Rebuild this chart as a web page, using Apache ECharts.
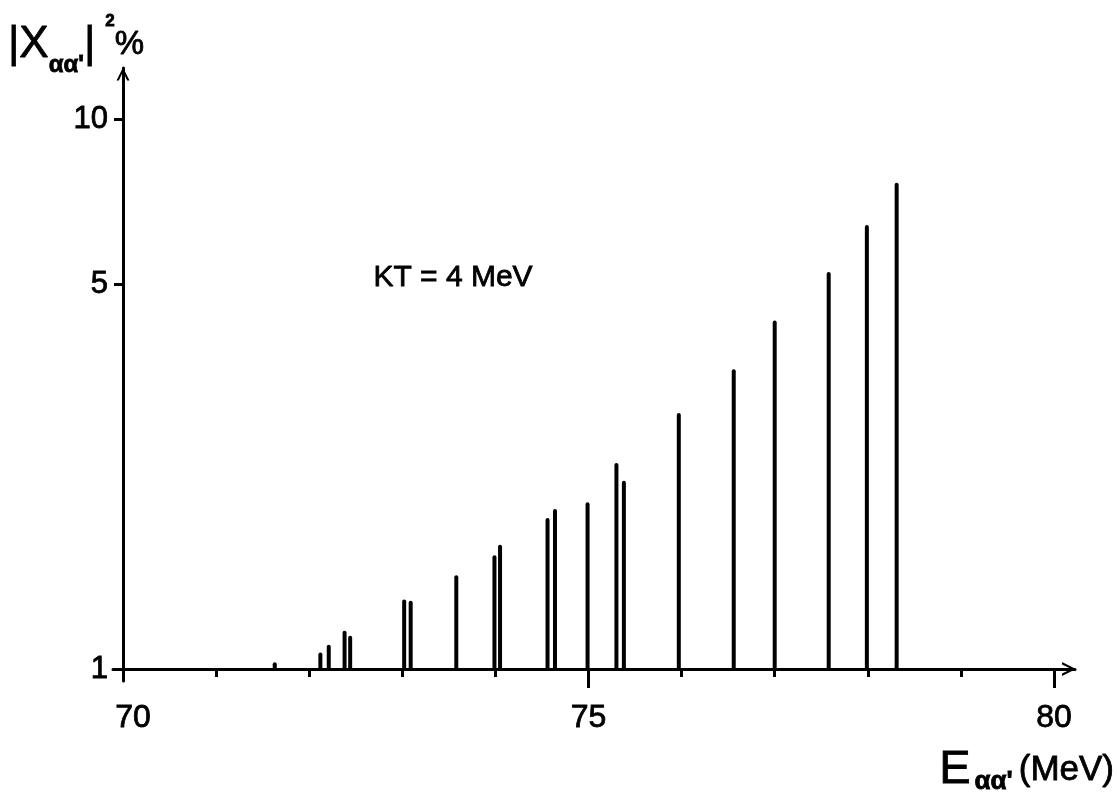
<!DOCTYPE html>
<html>
<head>
<meta charset="utf-8">
<script src="https://cdn.jsdelivr.net/npm/echarts@6/dist/echarts.min.js"></script>
<style>
  html, body { margin: 0; padding: 0; background: #fff; }
  #chart { width: 1117px; height: 801px; }
</style>
</head>
<body>
<div id="chart"></div>
<script>
// Level energies (MeV) and their strengths |X|^2 (%)
const energies = [71.63, 72.12, 72.21, 72.38, 72.44, 73.02, 73.09, 73.58, 73.99, 74.05,
                  74.56, 74.64, 74.99, 75.30, 75.38, 75.97, 76.56, 77.00, 77.58, 77.99, 78.31];
const strengths = [1.02, 1.063, 1.098, 1.164, 1.14, 1.326, 1.32, 1.468, 1.596, 1.669,
                   1.866, 1.938, 1.993, 2.349, 2.182, 2.896, 3.48, 4.264, 5.225, 6.36, 7.59];
const xMinorTicks = [70, 71, 72, 73, 74, 75, 76, 77, 78, 79, 80];
const xMajorTicks = [75, 80];
const xTickLabels = [70, 75, 80];
const yTickLabels = [1, 5, 10];
const annotation = 'KT = 4 MeV';

const FONT = '"Liberation Sans", Arial, sans-serif';
const INK = '#000';
// thin outline to give the lettering a pen-like weight
const PEN = { color: INK, fontFamily: FONT, textBorderColor: INK, textBorderWidth: 0.8 };

const chart = echarts.init(document.getElementById('chart'), null, { renderer: 'canvas' });

const chevron = 'path://M0,10 L5,0 L10,10 L8.2,10 L5,3.2 L1.8,10 Z';

chart.setOption({
  animation: false,
  backgroundColor: '#fff',
  grid: { left: 113, right: 42, top: 68, bottom: 120, containLabel: false, outerBoundsMode: 'none' },
  xAxis: [{
    type: 'value',
    min: 69.8926,
    max: 80.2256,
    position: 'bottom',
    offset: -12,
    splitLine: { show: false },
    axisLine: {
      show: true,
      lineStyle: { color: INK, width: 3 },
      symbol: ['none', chevron],
      symbolSize: [18, 14],
      symbolOffset: [0, -6]
    },
    axisTick: { show: true, customValues: xMinorTicks, length: 8, lineStyle: { color: INK, width: 3 } },
    axisLabel: Object.assign({
      customValues: xTickLabels,
      margin: 33,
      fontSize: 32,
      // the first label sits a little right of the origin corner
      formatter: v => (Math.round(v) === xTickLabels[0] ? '{first|' + Math.round(v) + '}' : String(Math.round(v))),
      rich: { first: Object.assign({ fontSize: 32, padding: [0, 0, 0, 20] }, PEN) }
    }, PEN),
    name: '{e|E}{sub|αα\'}{unit|(MeV)}',
    nameLocation: 'end',
    nameGap: 39,
    nameMoveOverlap: false,
    nameTextStyle: {
      align: 'right',
      verticalAlign: 'top',
      padding: [76, 0, 0, 0],
      color: INK,
      fontFamily: FONT,
      rich: {
        e: Object.assign({ fontSize: 47, lineHeight: 50, padding: [0, 4, 0, 0] }, PEN),
        sub: Object.assign({ fontSize: 26, fontWeight: 'bold', verticalAlign: 'bottom', lineHeight: 14, padding: [0, 6, 0, 0] }, PEN),
        unit: Object.assign({ fontSize: 35, lineHeight: 50 }, PEN)
      }
    }
  }, {
    type: 'value',
    min: 69.8926,
    max: 80.2256,
    position: 'bottom',
    offset: -12,
    splitLine: { show: false },
    axisLine: { show: false },
    axisTick: { show: true, customValues: xMajorTicks, length: 19, lineStyle: { color: INK, width: 3 } },
    axisLabel: { show: false }
  }],
  yAxis: {
    type: 'log',
    logBase: 10,
    min: 0.951,
    max: 12.38,
    offset: -10,
    splitLine: { show: false },
    axisLine: {
      show: true,
      lineStyle: { color: INK, width: 3 },
      symbol: ['none', chevron],
      symbolSize: [20, 13],
      symbolOffset: [0, -6]
    },
    axisTick: { show: true, customValues: yTickLabels, length: 9, lineStyle: { color: INK, width: 3 } },
    axisLabel: Object.assign({
      customValues: yTickLabels,
      margin: 15,
      fontSize: 31,
      formatter: v => String(Math.round(v))
    }, PEN),
    name: '{bar||}{x|X}{sub|αα\'}{bar||}{sup|2}{pct|%}',
    nameLocation: 'end',
    nameGap: -9,
    nameMoveOverlap: false,
    nameTextStyle: {
      align: 'center',
      verticalAlign: 'bottom',
      padding: [0, 94, 0, 0],
      color: INK,
      fontFamily: FONT,
      rich: {
        bar: Object.assign({ fontSize: 44, lineHeight: 64 }, PEN),
        x: Object.assign({ fontSize: 44, lineHeight: 64 }, PEN),
        sub: Object.assign({ fontSize: 24, fontWeight: 'bold', verticalAlign: 'bottom', lineHeight: 23 }, PEN),
        sup: Object.assign({ fontSize: 17, fontWeight: 'bold', verticalAlign: 'top', lineHeight: 8, padding: [0, 0, 0, 10] }, PEN),
        pct: Object.assign({ fontSize: 33, lineHeight: 64 }, PEN)
      }
    }
  },
  graphic: [{
    type: 'text',
    left: 373,
    top: 262,
    style: { text: annotation, fontSize: 30, fontFamily: FONT, fill: INK, stroke: INK, lineWidth: 0.8 }
  }],
  series: [{
    type: 'custom',
    xAxisIndex: 0,
    yAxisIndex: 0,
    data: energies.map((e, i) => [e, strengths[i]]),
    encode: { x: 0, y: 1 },
    renderItem: function (params, api) {
      const top = api.coord([api.value(0), api.value(1)]);
      const base = api.coord([api.value(0), 1]);
      return {
        type: 'line',
        shape: { x1: base[0], y1: base[1], x2: top[0], y2: top[1] },
        style: { stroke: INK, lineWidth: 4, lineCap: 'round' }
      };
    }
  }]
});
</script>
</body>
</html>
